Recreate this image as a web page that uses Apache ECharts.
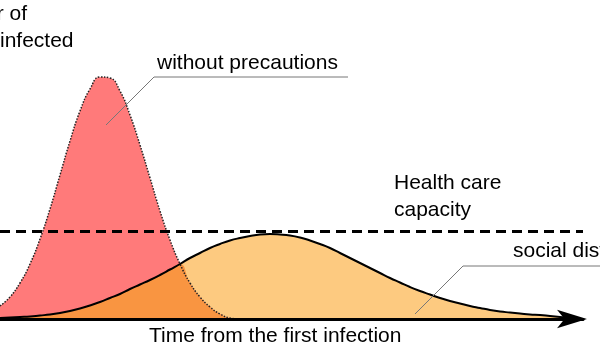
<!DOCTYPE html>
<html>
<head>
<meta charset="utf-8">
<script src="https://cdn.jsdelivr.net/npm/echarts@6/dist/echarts.min.js"></script>
<style>
  html, body { margin: 0; padding: 0; background: #fff; }
  #chart { width: 600px; height: 352px; }
</style>
</head>
<body>
<div id="chart"></div>
<script>
// time steps (1 step = 10 days-ish), values are number of infected (arbitrary units)
var days = [];
for (var d = 0; d <= 57; d++) days.push(d);

// without precautions
var noPrecautions = [13, 22, 36, 55, 80, 110, 144, 178, 208, 230, 242, 241, 228, 204, 174,
    141, 108, 79, 55, 36, 22, 12, 5, 1, 0];

// with social distancing
var socialDistancing = [1, 1.5, 2, 2.5, 3.5, 4.5, 6, 8, 10.5, 13.5, 17, 21, 25, 30, 34.5,
    39, 44, 49.5, 55, 61, 66, 71, 75, 78.5, 81, 83, 84.5, 85, 84.5, 83.5,
    81.5, 78.5, 75, 71, 66, 61, 56, 51, 46, 41, 36.5, 32, 28, 24.5, 21,
    18, 15.5, 13, 11, 9, 7.5, 6.5, 5.5, 4.5, 4, 3, 2, 1];

var capacity = 88;
var timeMax = 58.3;

var font = '"Liberation Sans", Arial, sans-serif';

function pairs(values) {
    return values.map(function (v, i) { return [days[i], v]; });
}
// overlap of both areas
var overlap = noPrecautions.map(function (v, i) {
    return Math.min(v, socialDistancing[i]);
});

var chart = echarts.init(document.getElementById('chart'));

var option = {
    backgroundColor: '#fff',
    animation: false,
    grid: {
        left: 0,
        right: 17,
        top: 19,
        bottom: 33
    },
    xAxis: {
        type: 'value',
        min: 0,
        max: timeMax,
        z: 10,
        axisLine: {
            show: true,
            symbol: ['none', 'arrow'],
            symbolSize: [14, 30],
            symbolOffset: [0, 4],
            lineStyle: { color: '#000', width: 3 }
        },
        axisTick: { show: false },
        axisLabel: { show: false },
        splitLine: { show: false }
    },
    yAxis: {
        type: 'value',
        min: 0,
        max: 300,
        show: false
    },
    series: [
        {
            // yellow fill
            type: 'line',
            z: 1,
            data: pairs(socialDistancing),
            smooth: true,
            showSymbol: false,
            lineStyle: { width: 0 },
            areaStyle: { color: '#fdca80', opacity: 1 },
            markLine: {
                silent: true,
                symbol: 'none',
                label: { show: false },
                lineStyle: { color: '#000', width: 3, type: [10, 6] },
                data: [{ yAxis: capacity }]
            }
        },
        {
            // red fill
            type: 'line',
            z: 2,
            data: pairs(noPrecautions),
            smooth: true,
            showSymbol: false,
            lineStyle: { width: 0 },
            areaStyle: { color: '#ff7a7a', opacity: 1 }
        },
        {
            // overlap
            type: 'line',
            z: 3,
            data: pairs(overlap),
            smooth: true,
            showSymbol: false,
            lineStyle: { width: 0 },
            areaStyle: { color: '#f99541', opacity: 1 }
        },
        {
            // dotted outline of the red curve
            type: 'line',
            z: 4,
            data: pairs(noPrecautions),
            smooth: true,
            showSymbol: false,
            lineStyle: { color: '#222', width: 1.5, type: 'dotted' }
        },
        {
            // solid outline of the yellow curve
            type: 'line',
            z: 5,
            data: pairs(socialDistancing),
            smooth: true,
            showSymbol: false,
            lineStyle: { color: '#000', width: 2 }
        }
    ],
    graphic: [
        { type: 'text', z: 100, x: 27, y: 14, style: { text: 'Number of', font: '21px ' + font, fill: '#000', align: 'right', verticalAlign: 'middle' } },
        { type: 'text', z: 100, x: 0, y: 41, style: { text: 'infected', font: '21px ' + font, fill: '#000', align: 'left', verticalAlign: 'middle' } },
        { type: 'text', z: 100, x: 157, y: 63, style: { text: 'without precautions', font: '21px ' + font, fill: '#000', verticalAlign: 'middle' } },
        { type: 'text', z: 100, x: 394, y: 183, style: { text: 'Health care', font: '21px ' + font, fill: '#000', verticalAlign: 'middle' } },
        { type: 'text', z: 100, x: 394, y: 210, style: { text: 'capacity', font: '21px ' + font, fill: '#000', verticalAlign: 'middle' } },
        { type: 'text', z: 100, x: 513, y: 251, style: { text: 'social distancing', font: '21px ' + font, fill: '#000', verticalAlign: 'middle' } },
        { type: 'text', z: 100, x: 149, y: 336, style: { text: 'Time from the first infection', font: '21px ' + font, fill: '#000', verticalAlign: 'middle' } },
        { type: 'polyline', z: 100, shape: { points: [[348, 77], [154, 77], [106, 125]] }, style: { stroke: '#777', lineWidth: 1, fill: null } },
        { type: 'polyline', z: 100, shape: { points: [[600, 266], [463, 266], [415, 314]] }, style: { stroke: '#777', lineWidth: 1, fill: null } }
    ]
};

chart.setOption(option);
</script>
</body>
</html>
